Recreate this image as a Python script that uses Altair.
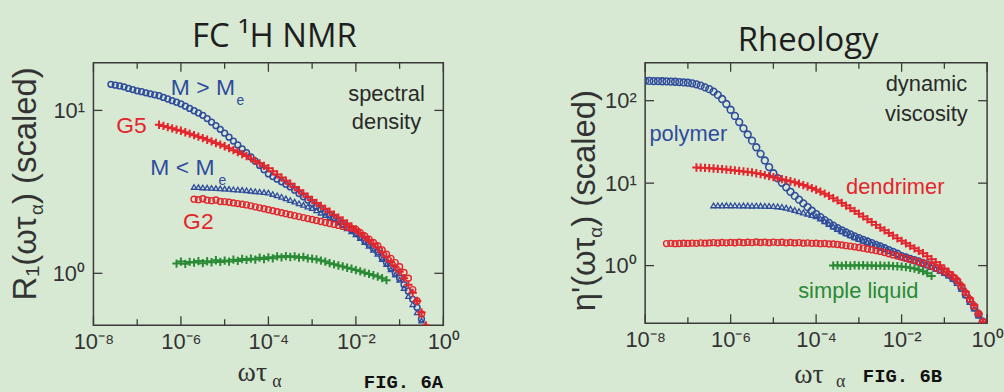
import altair as alt
import pandas as pd

BG = "#d8e9d3"
FRAME = "#3a3a3a"
BLUE = "#2f4c9c"
RED = "#e2262e"
GREEN = "#2a8a36"
TXT = "#2a2a2a"
PLUS = "M-1,0L1,0M0,-1L0,1"

# ---------------- left panel: FC 1H NMR (log10 omega*tau, log10 R1) ----------------
L_MGT_LX = [-7.6, -7.5, -7.4, -7.3, -7.2, -7.1, -7.0, -6.9, -6.8, -6.7, -6.6, -6.5, -6.4, -6.3, -6.2, -6.1,
            -6.0, -5.9, -5.8, -5.7, -5.6, -5.5, -5.4, -5.3, -5.2, -5.1, -5.0, -4.9, -4.8, -4.7, -4.6, -4.5,
            -4.4, -4.3, -4.2, -4.1, -4.0, -3.9, -3.8, -3.7, -3.6, -3.5, -3.4, -3.3, -3.2, -3.1, -3.0, -2.9,
            -2.8, -2.7, -2.6, -2.5, -2.4, -2.3, -2.2, -2.1, -2.0, -1.9, -1.8, -1.7, -1.6, -1.5, -1.4, -1.3,
            -1.2, -1.1, -1.0, -0.9, -0.8, -0.7, -0.6, -0.5, -0.4]
L_MGT_LY = [1.160, 1.155, 1.150, 1.145, 1.135, 1.128, 1.120, 1.115, 1.108, 1.102, 1.096, 1.090, 1.080, 1.070,
            1.060, 1.050, 1.040, 1.026, 1.012, 0.998, 0.984, 0.970, 0.950, 0.928, 0.906, 0.884, 0.860, 0.836,
            0.812, 0.788, 0.764, 0.740, 0.714, 0.688, 0.662, 0.636, 0.610, 0.594, 0.578, 0.562, 0.546, 0.530,
            0.510, 0.490, 0.470, 0.450, 0.430, 0.412, 0.394, 0.376, 0.358, 0.340, 0.322, 0.304, 0.286, 0.268,
            0.250, 0.226, 0.202, 0.178, 0.154, 0.130, 0.098, 0.066, 0.034, 0.002, -0.030, -0.070, -0.110,
            -0.160, -0.210, -0.280, -0.360]

L_G5_LX = [-6.5, -6.4, -6.3, -6.2, -6.1, -6.0, -5.9, -5.8, -5.7, -5.6, -5.5, -5.4, -5.3, -5.2, -5.1, -5.0,
           -4.9, -4.8, -4.7, -4.6, -4.5, -4.4, -4.3, -4.2, -4.1, -4.0, -3.9, -3.8, -3.7, -3.6, -3.5, -3.4,
           -3.3, -3.2, -3.1, -3.0, -2.9, -2.8, -2.7, -2.6, -2.5, -2.4, -2.3, -2.2, -2.1, -2.0, -1.9, -1.8,
           -1.7, -1.6, -1.5, -1.4, -1.3, -1.2, -1.1, -1.0, -0.9, -0.8, -0.7, -0.6, -0.5, -0.4]
L_G5_LY = [0.912, 0.905, 0.897, 0.890, 0.882, 0.875, 0.866, 0.857, 0.848, 0.839, 0.830, 0.820, 0.810, 0.800,
           0.790, 0.780, 0.768, 0.756, 0.744, 0.732, 0.720, 0.705, 0.690, 0.675, 0.660, 0.645, 0.626, 0.607,
           0.588, 0.569, 0.550, 0.530, 0.510, 0.490, 0.470, 0.450, 0.432, 0.414, 0.396, 0.378, 0.360, 0.342,
           0.324, 0.306, 0.288, 0.270, 0.248, 0.226, 0.204, 0.182, 0.160, 0.130, 0.100, 0.070, 0.040, 0.010,
           -0.030, -0.070, -0.120, -0.170, -0.240, -0.320]

L_MLT_LX = [-5.7, -5.6, -5.5, -5.4, -5.3, -5.2, -5.1, -5.0, -4.9, -4.8, -4.7, -4.6, -4.5, -4.4, -4.3, -4.2,
            -4.1, -4.0, -3.9, -3.8, -3.7, -3.6, -3.5, -3.4, -3.3, -3.2, -3.1, -3.0, -2.9, -2.8, -2.7, -2.6,
            -2.5, -2.4, -2.3, -2.2, -2.1, -2.0, -1.9, -1.8, -1.7, -1.6, -1.5, -1.4, -1.3, -1.2, -1.1, -1.0,
            -0.9, -0.8, -0.7, -0.6, -0.5, -0.4]
L_MLT_LY = [0.530, 0.529, 0.527, 0.526, 0.524, 0.523, 0.521, 0.520, 0.518, 0.516, 0.514, 0.512, 0.510, 0.507,
            0.504, 0.501, 0.498, 0.495, 0.487, 0.479, 0.470, 0.460, 0.450, 0.440, 0.430, 0.420, 0.410, 0.400,
            0.386, 0.372, 0.358, 0.344, 0.330, 0.312, 0.294, 0.276, 0.258, 0.240, 0.216, 0.192, 0.168, 0.144,
            0.120, 0.088, 0.056, 0.024, -0.008, -0.040, -0.090, -0.140, -0.190, -0.240, -0.290, -0.370]

L_G2_LX = L_MLT_LX
L_G2_LY = [0.455, 0.452, 0.458, 0.449, 0.446, 0.450, 0.441, 0.440, 0.436, 0.432, 0.428, 0.424, 0.420, 0.414,
           0.408, 0.402, 0.396, 0.390, 0.384, 0.378, 0.372, 0.366, 0.360, 0.354, 0.348, 0.342, 0.336, 0.330,
           0.324, 0.318, 0.312, 0.306, 0.300, 0.294, 0.288, 0.282, 0.276, 0.270, 0.250, 0.230, 0.210, 0.190,
           0.170, 0.144, 0.118, 0.092, 0.066, 0.040, 0.005, -0.030, -0.100, -0.170, -0.250, -0.330]

L_LIQ_LX = [-6.1, -6.0, -5.9, -5.8, -5.7, -5.6, -5.5, -5.4, -5.3, -5.2, -5.1, -5.0, -4.9, -4.8, -4.7, -4.6,
            -4.5, -4.4, -4.3, -4.2, -4.1, -4.0, -3.9, -3.8, -3.7, -3.6, -3.5, -3.4, -3.3, -3.2, -3.1, -3.0,
            -2.9, -2.8, -2.7, -2.6, -2.5, -2.4, -2.3, -2.2, -2.1, -2.0, -1.9, -1.8, -1.7, -1.6, -1.5, -1.4, -1.3]
L_LIQ_LY = [0.060, 0.072, 0.058, 0.070, 0.066, 0.075, 0.062, 0.074, 0.068, 0.080, 0.070, 0.078, 0.072, 0.084,
            0.076, 0.088, 0.082, 0.090, 0.084, 0.096, 0.088, 0.098, 0.092, 0.104, 0.098, 0.106, 0.100, 0.104,
            0.096, 0.100, 0.092, 0.090, 0.086, 0.078, 0.072, 0.062, 0.055, 0.048, 0.042, 0.034, 0.028, 0.020,
            0.012, 0.004, -0.004, -0.012, -0.020, -0.030, -0.042]

# ---------------- right panel: Rheology (log10 omega*tau, log10 eta') ----------------
R_POL_LX = [-8.0, -7.9, -7.8, -7.7, -7.6, -7.5, -7.4, -7.3, -7.2, -7.1, -7.0, -6.9, -6.8, -6.7, -6.6, -6.5,
            -6.4, -6.3, -6.2, -6.1, -6.0, -5.9, -5.8, -5.7, -5.6, -5.5, -5.4, -5.3, -5.2, -5.1, -5.0, -4.9,
            -4.8, -4.7, -4.6, -4.5, -4.4, -4.3, -4.2, -4.1, -4.0, -3.9, -3.8, -3.7, -3.6, -3.5, -3.4, -3.3,
            -3.2, -3.1, -3.0, -2.9, -2.8, -2.7, -2.6, -2.5, -2.4, -2.3, -2.2, -2.1, -2.0, -1.9, -1.8, -1.7,
            -1.6, -1.5, -1.4, -1.3, -1.2, -1.1, -1.0, -0.9, -0.8, -0.7, -0.6, -0.5, -0.4, -0.3, -0.2, -0.1]
R_POL_LY = [2.240, 2.240, 2.238, 2.238, 2.236, 2.235, 2.232, 2.230, 2.226, 2.222, 2.218, 2.210, 2.198, 2.182,
            2.162, 2.140, 2.110, 2.070, 2.020, 1.960, 1.890, 1.815, 1.740, 1.665, 1.590, 1.515, 1.435, 1.355,
            1.275, 1.195, 1.120, 1.060, 1.005, 0.950, 0.895, 0.845, 0.800, 0.755, 0.710, 0.665, 0.625, 0.588,
            0.552, 0.518, 0.485, 0.455, 0.428, 0.402, 0.378, 0.355, 0.333, 0.312, 0.292, 0.272, 0.252, 0.232,
            0.210, 0.188, 0.166, 0.144, 0.115, 0.098, 0.082, 0.066, 0.050, 0.032, 0.014, -0.006, -0.028,
            -0.052, -0.078, -0.110, -0.150, -0.200, -0.270, -0.350, -0.430, -0.510, -0.595, -0.680]

R_DEN_LX = [-6.8, -6.7, -6.6, -6.5, -6.4, -6.3, -6.2, -6.1, -6.0, -5.9, -5.8, -5.7, -5.6, -5.5, -5.4, -5.3,
            -5.2, -5.1, -5.0, -4.9, -4.8, -4.7, -4.6, -4.5, -4.4, -4.3, -4.2, -4.1, -4.0, -3.9, -3.8, -3.7,
            -3.6, -3.5, -3.4, -3.3, -3.2, -3.1, -3.0, -2.9, -2.8, -2.7, -2.6, -2.5, -2.4, -2.3, -2.2, -2.1,
            -2.0, -1.9, -1.8, -1.7, -1.6, -1.5, -1.4, -1.3, -1.2, -1.1, -1.0, -0.9, -0.8, -0.7, -0.6, -0.5,
            -0.4, -0.3, -0.2, -0.1]
R_DEN_LY = [1.190, 1.188, 1.185, 1.182, 1.178, 1.174, 1.170, 1.165, 1.160, 1.154, 1.148, 1.142, 1.136, 1.130,
            1.120, 1.110, 1.098, 1.085, 1.072, 1.060, 1.048, 1.036, 1.023, 1.010, 0.994, 0.977, 0.959, 0.940,
            0.920, 0.897, 0.872, 0.846, 0.818, 0.790, 0.760, 0.728, 0.696, 0.663, 0.630, 0.596, 0.562, 0.528,
            0.494, 0.460, 0.428, 0.396, 0.364, 0.332, 0.300, 0.270, 0.240, 0.210, 0.180, 0.150, 0.114, 0.078,
            0.042, 0.004, -0.036, -0.076, -0.120, -0.170, -0.240, -0.320, -0.400, -0.480, -0.580, -0.680]

R_TRI_LX = [-6.4, -6.3, -6.2, -6.1, -6.0, -5.9, -5.8, -5.7, -5.6, -5.5, -5.4, -5.3, -5.2, -5.1, -5.0, -4.9,
            -4.8, -4.7, -4.6, -4.5, -4.4, -4.3, -4.2, -4.1, -4.0, -3.9, -3.8, -3.7, -3.6, -3.5, -3.4, -3.3,
            -3.2, -3.1, -3.0, -2.9, -2.8, -2.7, -2.6, -2.5, -2.4, -2.3, -2.2, -2.1, -2.0, -1.9, -1.8, -1.7,
            -1.6, -1.5, -1.4, -1.3, -1.2, -1.1, -1.0, -0.9, -0.8, -0.7, -0.6, -0.5, -0.4, -0.3, -0.2, -0.1]
R_TRI_LY = [0.730, 0.731, 0.729, 0.732, 0.730, 0.731, 0.728, 0.730, 0.729, 0.727, 0.728, 0.726, 0.725, 0.724,
            0.722, 0.718, 0.712, 0.702, 0.690, 0.675, 0.660, 0.645, 0.630, 0.614, 0.598, 0.570, 0.538, 0.506,
            0.475, 0.445, 0.418, 0.392, 0.368, 0.345, 0.323, 0.302, 0.282, 0.262, 0.242, 0.222, 0.200, 0.178,
            0.156, 0.134, 0.105, 0.090, 0.074, 0.058, 0.040, 0.022, 0.004, -0.016, -0.038, -0.062, -0.088,
            -0.120, -0.160, -0.210, -0.280, -0.360, -0.440, -0.520, -0.605, -0.690]

R_CIR_LX = [-7.5, -7.4, -7.3, -7.2, -7.1, -7.0, -6.9, -6.8, -6.7, -6.6, -6.5, -6.4, -6.3, -6.2, -6.1, -6.0,
            -5.9, -5.8, -5.7, -5.6, -5.5, -5.4, -5.3, -5.2, -5.1, -5.0, -4.9, -4.8, -4.7, -4.6, -4.5, -4.4,
            -4.3, -4.2, -4.1, -4.0, -3.9, -3.8, -3.7, -3.6, -3.5, -3.4, -3.3, -3.2, -3.1, -3.0, -2.9, -2.8,
            -2.7, -2.6, -2.5, -2.4, -2.3, -2.2, -2.1, -2.0, -1.9, -1.8, -1.7, -1.6, -1.5, -1.4, -1.3, -1.2,
            -1.1, -1.0, -0.9, -0.8, -0.7, -0.6, -0.5, -0.4, -0.3, -0.2, -0.1]
R_CIR_LY = [0.267, 0.270, 0.266, 0.268, 0.272, 0.269, 0.273, 0.270, 0.276, 0.272, 0.275, 0.279, 0.274, 0.280,
            0.276, 0.281, 0.277, 0.284, 0.278, 0.283, 0.279, 0.286, 0.280, 0.284, 0.278, 0.285, 0.279, 0.283,
            0.276, 0.281, 0.275, 0.279, 0.272, 0.276, 0.270, 0.272, 0.266, 0.268, 0.262, 0.262, 0.256, 0.250,
            0.242, 0.236, 0.228, 0.220, 0.212, 0.202, 0.192, 0.182, 0.172, 0.158, 0.144, 0.130, 0.116, 0.102,
            0.088, 0.074, 0.060, 0.046, 0.032, 0.012, -0.008, -0.028, -0.050, -0.072, -0.100, -0.136, -0.180,
            -0.250, -0.330, -0.410, -0.490, -0.580, -0.680]

R_LIQ_LX = [-3.6, -3.5, -3.4, -3.3, -3.2, -3.1, -3.0, -2.9, -2.8, -2.7, -2.6, -2.5, -2.4, -2.3, -2.2, -2.1,
            -2.0, -1.9, -1.8, -1.7, -1.6, -1.5, -1.4, -1.3]
R_LIQ_LY = [0.000, 0.004, -0.003, 0.005, -0.002, 0.004, 0.000, 0.005, -0.002, 0.003, -0.004, 0.002, -0.003,
            0.000, -0.006, -0.008, -0.012, -0.018, -0.026, -0.036, -0.050, -0.068, -0.092, -0.125]

# ---------------- axes / ticks ----------------
X_DOMAIN = [1e-8, 1.0]
L_Y_DOMAIN = [0.48, 19.6]
R_Y_DOMAIN = [0.2, 288.0]
X_LABEL_VALUES = [1e-8, 1e-6, 1e-4, 1e-2, 1.0]
X_MAJOR_TICKS = [1e-8, 1e-6, 1e-4, 1e-2, 1.0]
X_MINOR_TICKS = [1e-7, 1e-5, 1e-3, 1e-1]
L_Y_TICKS = [1.0, 10.0]
R_Y_TICKS = [1.0, 10.0, 100.0]
EXP_LABELS = {-8: "10⁻⁸", -6: "10⁻⁶", -4: "10⁻⁴", -2: "10⁻²", 0: "10⁰", 1: "10¹", 2: "10²"}

# annotations (data coordinates)
L_NOTES = [
    ("M > M", 10 ** -6.23, 10 ** 1.097, BLUE, 23, "left"),
    ("e", 10 ** -4.73, 10 ** 1.035, BLUE, 14, "left"),
    ("G5", 10 ** -7.48, 10 ** 0.861, RED, 23, "left"),
    ("M < M", 10 ** -6.70, 10 ** 0.606, BLUE, 23, "left"),
    ("e", 10 ** -5.14, 10 ** 0.545, BLUE, 14, "left"),
    ("G2", 10 ** -5.95, 10 ** 0.273, RED, 23, "left"),
    ("spectral", 10 ** -1.30, 10 ** 1.060, TXT, 22, "center"),
    ("density", 10 ** -1.30, 10 ** 0.885, TXT, 22, "center"),
]
R_NOTES = [
    ("dynamic", 10 ** -1.42, 10 ** 2.121, TXT, 22, "center"),
    ("viscosity", 10 ** -1.42, 10 ** 1.758, TXT, 22, "center"),
    ("polymer", 10 ** -7.90, 10 ** 1.515, BLUE, 22, "left"),
    ("dendrimer", 10 ** -3.30, 10 ** 0.873, RED, 22, "left"),
    ("simple liquid", 10 ** -4.42, 10 ** -0.388, GREEN, 22, "left"),
]

LW, LH = 352, 264
RW, RH = 344, 262


def label_expr(exps):
    e = "round(log(datum.value)/LN10)"
    parts = " : ".join(f"{e} == {k} ? '{EXP_LABELS[k]}'" for k in exps)
    return parts + " : ''"


def make_axis_x():
    return alt.Axis(values=X_LABEL_VALUES, labelExpr=label_expr([-8, -6, -4, -2, 0]), ticks=False,
                    domain=False, grid=False, title=None, labelFont="Liberation Sans", labelFontSize=22,
                    labelColor="#333333", labelPadding=6, labelFlush=False, labelOverlap=False)


def make_axis_y(vals, exps):
    return alt.Axis(values=vals, labelExpr=label_expr(exps), ticks=False, domain=False, grid=False,
                    title=None, labelFont="Liberation Sans", labelFontSize=22, labelColor="#333333",
                    labelPadding=9, labelFlush=False, labelOverlap=False)


def frame(lx, ly):
    return pd.DataFrame({"x": [10 ** v for v in lx], "y": [10 ** v for v in ly]})


def panel(series, notes, ydom, yticks, yexps, W, H, extra):
    xs = alt.Scale(type="log", domain=X_DOMAIN, nice=False)
    ys = alt.Scale(type="log", domain=ydom, nice=False)
    X = alt.X("x:Q", scale=xs, axis=make_axis_x())
    Y = alt.Y("y:Q", scale=ys, axis=make_axis_y(yticks, yexps))
    layers = []
    for (lx, ly, shape, color, size, sw) in series:
        layers.append(alt.Chart(frame(lx, ly)).mark_point(
            shape=shape, filled=False, color=color, size=size, strokeWidth=sw, opacity=1, clip=True
        ).encode(x=X, y=Y))
    # inward ticks
    xt_major = pd.DataFrame({"x": X_MAJOR_TICKS})
    xt_minor = pd.DataFrame({"x": X_MINOR_TICKS})
    yt = pd.DataFrame({"y": yticks})
    for df, ln in ((xt_major, 9), (xt_minor, 6)):
        layers.append(alt.Chart(df).mark_rule(color=FRAME, strokeWidth=1.3).encode(
            x=X, y=alt.value(H), y2=alt.value(H - ln)))
        layers.append(alt.Chart(df).mark_rule(color=FRAME, strokeWidth=1.3).encode(
            x=X, y=alt.value(0), y2=alt.value(ln)))
    layers.append(alt.Chart(yt).mark_rule(color=FRAME, strokeWidth=1.3).encode(
        y=Y, x=alt.value(0), x2=alt.value(9)))
    layers.append(alt.Chart(yt).mark_rule(color=FRAME, strokeWidth=1.3).encode(
        y=Y, x=alt.value(W), x2=alt.value(W - 9)))
    # annotations
    for (t, xv, yv, color, fs, align) in notes:
        df = pd.DataFrame({"x": [xv], "y": [yv], "t": [t]})
        layers.append(alt.Chart(df).mark_text(
            font="Liberation Sans", fontSize=fs, color=color, align=align, baseline="alphabetic"
        ).encode(x=X, y=Y, text="t:N"))
    # free text (axis titles, figure tags)
    dummy = pd.DataFrame({"a": [0]})
    for (t, px, py, font, fs, angle, weight, color) in extra:
        layers.append(alt.Chart(dummy).mark_text(
            text=t, font=font, fontSize=fs, angle=angle, fontWeight=weight, color=color,
            align="left", baseline="alphabetic"
        ).encode(x=alt.value(px), y=alt.value(py)))
    return alt.layer(*layers)


L_SERIES = [
    (L_MGT_LX, L_MGT_LY, "circle", BLUE, 34, 1.5),
    (L_MLT_LX, L_MLT_LY, "triangle-up", BLUE, 28, 1.3),
    (L_G2_LX, L_G2_LY, "circle", RED, 36, 1.4),
    (L_G5_LX, L_G5_LY, PLUS, RED, 70, 2.0),
    (L_LIQ_LX, L_LIQ_LY, PLUS, GREEN, 70, 2.0),
]
R_SERIES = [
    (R_POL_LX, R_POL_LY, "circle", BLUE, 46, 1.6),
    (R_TRI_LX, R_TRI_LY, "triangle-up", BLUE, 30, 1.3),
    (R_CIR_LX, R_CIR_LY, "circle", RED, 36, 1.4),
    (R_DEN_LX, R_DEN_LY, PLUS, RED, 70, 2.0),
    (R_LIQ_LX, R_LIQ_LY, PLUS, GREEN, 70, 2.0),
]

L_EXTRA = [
    ("R₁(ωτ", -58, 239, "Liberation Sans", 33, 270, "normal", "#333333"),
    ("α", -51, 153, "Liberation Sans", 19, 270, "normal", "#333333"),
    (") (scaled)", -58, 142, "Liberation Sans", 33, 270, "normal", "#333333"),
    ("ωτ", 145, 320, "Liberation Serif", 28, 0, "normal", "#333333"),
    ("α", 180, 326, "Liberation Serif", 18, 0, "normal", "#333333"),
    ("FIG. 6A", 272, 327, "Liberation Mono", 19, 0, "bold", "#111111"),
]
R_EXTRA = [
    ("η'(ωτ", -50, 250, "Liberation Sans", 33, 270, "normal", "#333333"),
    ("α", -43, 176, "Liberation Sans", 19, 270, "normal", "#333333"),
    (") (scaled)", -50, 165, "Liberation Sans", 33, 270, "normal", "#333333"),
    ("ωτ", 150, 322, "Liberation Serif", 28, 0, "normal", "#333333"),
    ("α", 192, 326, "Liberation Serif", 18, 0, "normal", "#333333"),
    ("FIG. 6B", 219, 321, "Liberation Mono", 19, 0, "bold", "#111111"),
]

left = panel(L_SERIES, L_NOTES, L_Y_DOMAIN, L_Y_TICKS, [0, 1], LW, LH, L_EXTRA).properties(
    width=LW, height=LH,
    title=alt.TitleParams("FC ¹H NMR", font="Open Sans", fontSize=33, fontWeight="normal",
                          color="#1e1e1e", anchor="middle", dx=6, offset=8))
right = panel(R_SERIES, R_NOTES, R_Y_DOMAIN, R_Y_TICKS, [0, 1, 2], RW, RH, R_EXTRA).properties(
    width=RW, height=RH,
    title=alt.TitleParams("Rheology", font="Open Sans", fontSize=33, fontWeight="normal",
                          color="#1e1e1e", anchor="middle", dx=-8, offset=4))

chart = alt.hconcat(left, right, spacing=109).properties(
    background=BG, padding={"left": 9, "top": 19, "right": 0, "bottom": 0}
).configure_view(stroke=FRAME, strokeWidth=1.5)

chart.save("out.html", embed_options={"renderer": "svg", "actions": False})
